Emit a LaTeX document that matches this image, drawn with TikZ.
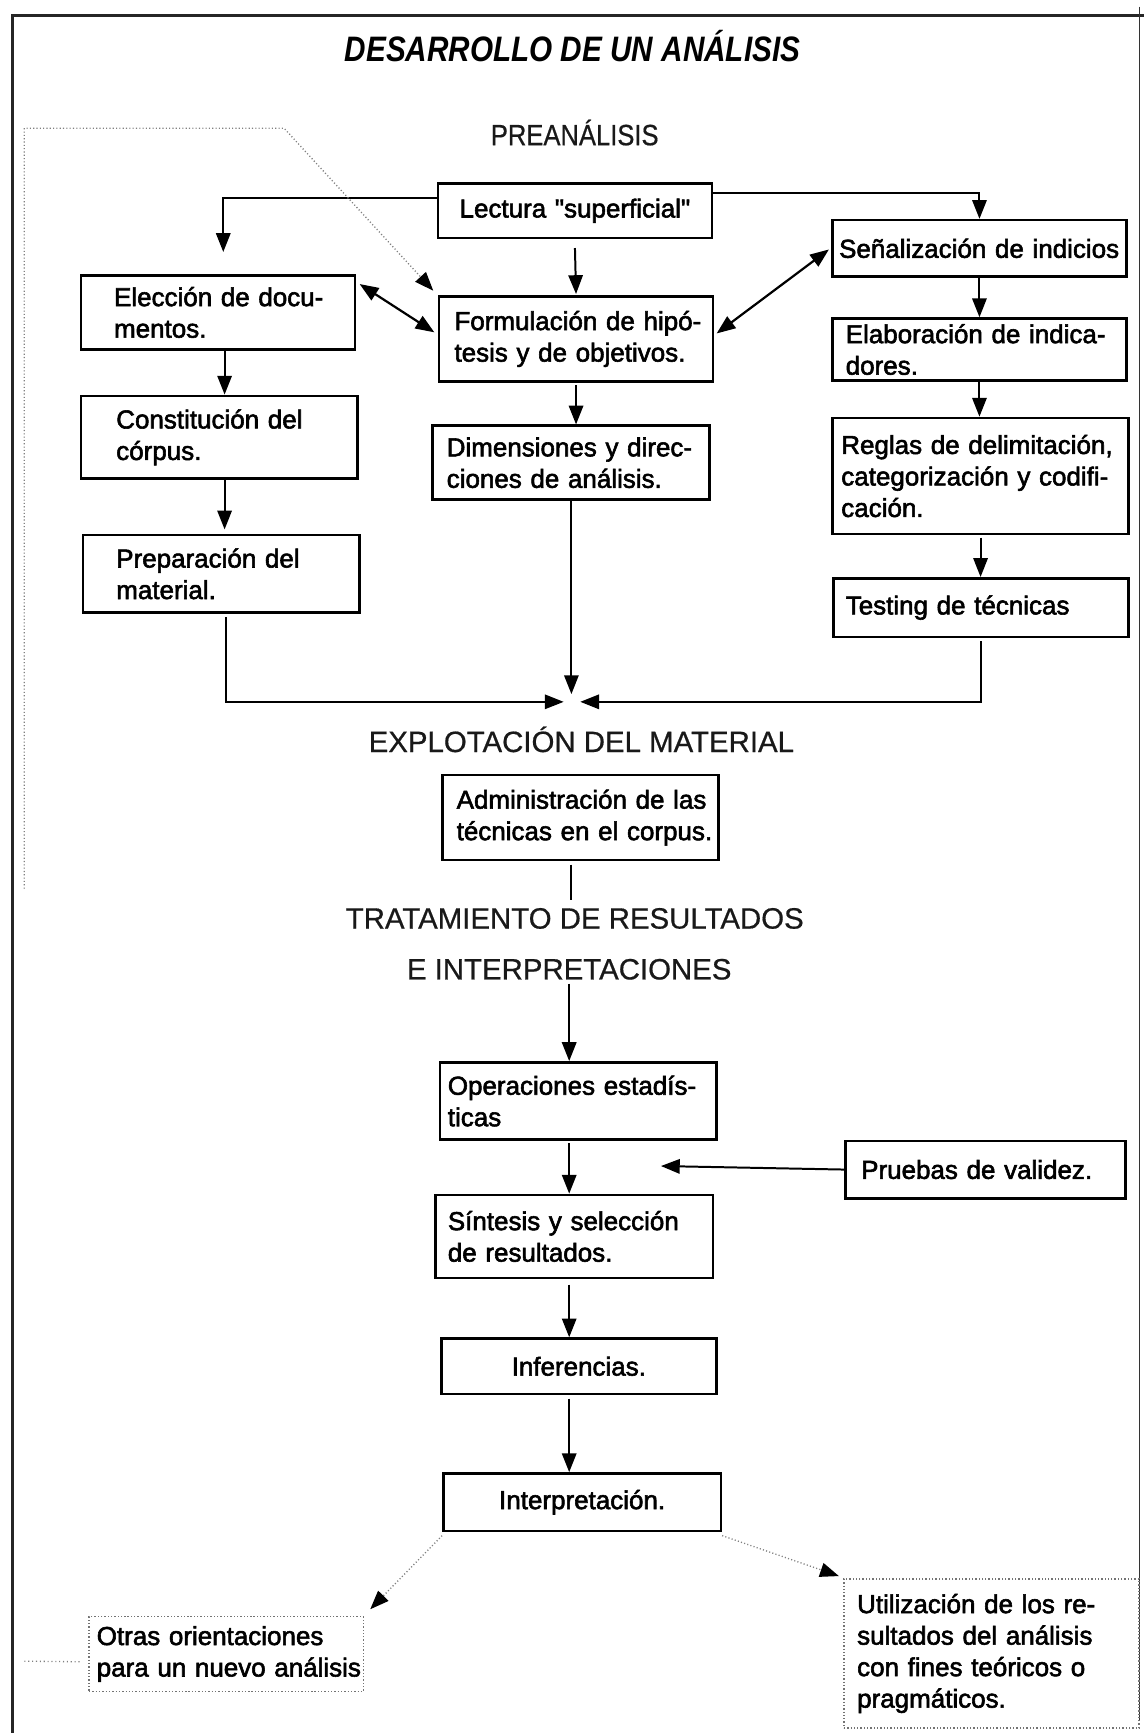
\documentclass[tikz,border=0pt]{standalone}
\usepackage{fontspec}
\usepackage{graphicx}
\setmainfont{Liberation Sans}
\newfontfamily\boxfam{Liberation Sans}[FakeBold=2.2]
\newfontfamily\headfam{Liberation Sans}[FakeBold=0.6]
\usetikzlibrary{arrows.meta,calc}
\newcommand{\boxtxt}{\boxfam\fontsize{23.5}{28.5}\selectfont}
\newcommand{\headtxt}{\headfam\fontsize{26.6}{30}\selectfont}
\newcommand{\titletxt}{\bfseries\itshape\fontsize{32}{36}\selectfont}
\tikzset{
  bx/.style={draw=black, line width=2.4pt, font=\boxtxt, inner ysep=0pt, anchor=north west, align=left},
  dbx/.style={bx, draw=black!55, line width=1.1pt, dash pattern=on 1.2pt off 1.8pt},
  arr/.style={line width=1.8pt, -{Triangle[length=17pt,width=13pt]}},
  biarr/.style={line width=2pt, {Triangle[length=17pt,width=13pt]}-{Triangle[length=17pt,width=13pt]}},
  darr/.style={line width=1.2pt, black!50, dash pattern=on 1pt off 2pt, -{Triangle[length=17pt,width=13pt,color=black]}},
  dline/.style={line width=1.2pt, black!50, dash pattern=on 1pt off 2.5pt},
  head/.style={font=\headtxt, text=black!90},
  frame/.style={line width=2.6pt, black!85},
}
\begin{document}
\begin{tikzpicture}[x=1pt,y=-1pt]
\useasboundingbox (0,0) rectangle (1035,1568);
% outer frame
\draw[frame] (11,1568) -- (11,14) -- (1035,14);
\draw[line width=1.2pt, black!80] (1031,6) -- (1031,1556);

% headings
\node[font=\titletxt] (title) at (518,42) {\scalebox{0.84}[1]{DESARROLLO DE UN ANÁLISIS}};
\node[head] (pre) at (520,120) {\scalebox{0.87}[1]{PREANÁLISIS}};
\node[head] (expl) at (526,669) {EXPLOTACIÓN DEL MATERIAL};
\node[head] (trat) at (520,831) {TRATAMIENTO DE RESULTADOS};
\node[head] (einterp) at (515,877) {E INTERPRETACIONES};

% boxes
\node[bx, minimum width=248pt, minimum height=49pt, text width=228pt, inner xsep=10pt, align=center] (lect) at (395,165) {Lectura "superficial"};
\node[bx, minimum width=248pt, minimum height=67pt, text width=188pt, inner xsep=30pt] (elec) at (72,248) {\raisebox{-7pt}{\mbox{Elección de docu-}}\\\raisebox{-7pt}{\mbox{mentos.}}};
\node[bx, minimum width=248pt, minimum height=77pt, text width=220pt, inner xsep=14pt] (form) at (396,267) {\mbox{Formulación de hipó-}\\\mbox{tesis y de objetivos.}};
\node[bx, minimum width=266pt, minimum height=51pt, text width=254pt, inner xsep=6pt] (senal) at (752,198) {\mbox{Señalización de indicios}};
\node[bx, minimum width=266pt, minimum height=56pt, text width=242pt, inner xsep=12pt] (elab) at (752,287) {\mbox{Elaboración de indica-}\\\mbox{dores.}};
\node[bx, minimum width=250pt, minimum height=75pt, text width=186pt, inner xsep=32pt] (const) at (72,357) {\mbox{Constitución del}\\\mbox{córpus.}};
\node[bx, minimum width=251pt, minimum height=67pt, text width=225pt, inner xsep=13pt] (dim) at (390,384) {\mbox{Dimensiones y direc-}\\\mbox{ciones de análisis.}};
\node[bx, minimum width=268pt, minimum height=105pt, text width=252pt, inner xsep=8pt] (reglas) at (752,377) {\mbox{Reglas de delimitación,}\\\mbox{categorización y codifi-}\\\mbox{cación.}};
\node[bx, minimum width=267pt, minimum height=53pt, text width=245pt, inner xsep=11pt] (test) at (753,522) {\mbox{Testing de técnicas}};
\node[bx, minimum width=250pt, minimum height=70pt, text width=190pt, inner xsep=30pt] (prep) at (74,483) {\mbox{Preparación del}\\\mbox{material.}};
\node[bx, minimum width=250pt, minimum height=77pt, text width=224pt, inner xsep=13pt] (admin) at (399,700) {\mbox{Administración de las}\\\mbox{técnicas en el corpus.}};
\node[bx, minimum width=250pt, minimum height=70pt, text width=236pt, inner xsep=7pt] (oper) at (397,960) {\mbox{Operaciones estadís-}\\\mbox{ticas}};
\node[bx, minimum width=251pt, minimum height=75pt, text width=229pt, inner xsep=11pt] (sint) at (393,1080) {\mbox{Síntesis y selección}\\\mbox{de resultados.}};
\node[bx, minimum width=253pt, minimum height=52pt, text width=225pt, inner xsep=14pt] (prue) at (764,1031) {\mbox{Pruebas de validez.}};
\node[bx, minimum width=249pt, minimum height=50pt, text width=229pt, inner xsep=10pt, align=center] (infer) at (398,1210) {Inferencias.};
\node[bx, minimum width=251pt, minimum height=52pt, text width=231pt, inner xsep=10pt, align=center] (interp) at (400,1332) {Interpretación.\hspace*{2.2em}};
\node[dbx, minimum width=248pt, minimum height=68pt, text width=234pt, inner xsep=7pt] (otras) at (80,1462) {\mbox{Otras orientaciones}\\\mbox{para un nuevo análisis}};
\node[dbx, minimum width=267pt, minimum height=135pt, text width=243pt, inner xsep=12pt] (util) at (763,1428) {\mbox{Utilización de los re-}\\\mbox{sultados del análisis}\\\mbox{con fines teóricos o}\\\mbox{pragmáticos.}};

% coordinates
\coordinate (elecIn) at (202,228);
\coordinate (meetL) at (510,635);
\coordinate (meetR) at (525,635);
\coordinate (meetT) at (517,628);
\coordinate (fbBot) at (22,804);
\coordinate (fbTL) at (22,116);
\coordinate (fbTR) at (257,116);
\coordinate (prueTip) at (598,1055);
\coordinate (otrasTip) at (335,1456);
\coordinate (otrasStub) at (22,1503);
\coordinate (tratTop) at (517,814);

% connectors
\draw[arr] ([yshift=11.5pt]lect.west) -| (elecIn);
\draw[arr] ([yshift=16.5pt]lect.east) -| (senal.north);
\draw[arr] ([yshift=-8pt]lect.south) -- ([yshift=1pt]form.north);
\draw[biarr] ($(elec.north east)+(3,9)$) -- ($(form.west)+(-3,-6)$);
\draw[biarr] ($(form.east)+(2,-5)$) -- ($(senal.west)+(-2,1)$);
\draw[arr] (senal.south) -- (elab.north);
\draw[arr] (elab.south) -- (elab.south |- reglas.north);
\draw[arr] ([yshift=-2pt]reglas.south) -- (reglas.south |- test.north);
\draw[arr] ([yshift=-3pt]test.south) |- (meetR);
\draw[arr] ([yshift=-2pt]form.south) -- (form.south |- dim.north);
\draw[arr] (meetT |- dim.south) -- (meetT);
\draw[arr] ([xshift=6pt]elec.south) -- ([xshift=6pt]elec.south |- const.north);
\draw[arr] ([xshift=5pt]const.south) -- ([xshift=5pt,yshift=4pt]const.south |- prep.north);
\draw[arr] ([xshift=4pt,yshift=-3pt]prep.south) |- (meetL);
\draw[line width=1.8pt] ([yshift=-3pt]tratTop |- admin.south) -- (tratTop);
\draw[arr] (einterp.south) -- (einterp.south |- oper.north);
\draw[arr] ([yshift=-2pt]einterp.south |- oper.south) -- (einterp.south |- sint.north);
\draw[arr] (prue.west) -- (prueTip);
\draw[arr] ([yshift=-5pt]einterp.south |- sint.south) -- (einterp.south |- infer.north);
\draw[arr] ([yshift=-3pt]einterp.south |- infer.south) -- (einterp.south |- interp.north);
\draw[darr] ([yshift=-3pt]interp.south west) -- (otrasTip);
\draw[darr] ([yshift=-3pt]interp.south east) -- ($(util.north west)+(-4,-2)$);
\draw[darr] (fbBot) -- (fbTL) -- (fbTR) -- ($(form.north west)+(-4,-4)$);
\draw[dline] ($(otras.west)+(-8,7)$) -- (otrasStub);
\end{tikzpicture}
\end{document}
